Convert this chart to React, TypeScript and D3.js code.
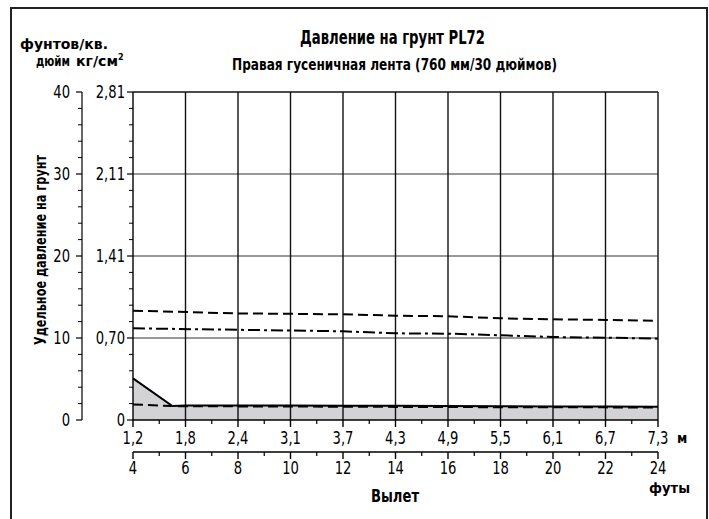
import React from "react";
import * as d3 from "d3";

const feetTicks = [4, 6, 8, 10, 12, 14, 16, 18, 20, 22, 24];
const meterLabels = ["1,2", "1,8", "2,4", "3,1", "3,7", "4,3", "4,9", "5,5", "6,1", "6,7", "7,3"];
const psiTicks = [0, 10, 20, 30, 40];
const kgLabels = ["0", "0,70", "1,41", "2,11", "2,81"];

const dashedFeet = [4, 8, 12, 14, 16, 18, 20, 22, 24];
const dashedValues = [13.33, 13.0, 12.89, 12.72, 12.65, 12.4, 12.28, 12.2, 12.11];

const dashDotFeet = [4, 8, 12, 14, 16, 18, 20, 22, 24];
const dashDotValues = [11.18, 11.0, 10.82, 10.57, 10.53, 10.33, 10.12, 10.04, 9.92];

const solidFeet = [4, 5.5, 6, 8, 10, 12, 14, 16, 18, 20, 22, 24];
const solidValues = [5.08, 1.7, 1.76, 1.76, 1.76, 1.75, 1.73, 1.7, 1.68, 1.66, 1.64, 1.63];

const lowDashFeet = [4, 5.5, 6, 8, 10, 12, 14, 16, 18, 20, 22, 24];
const lowDashValues = [1.9, 1.7, 1.68, 1.66, 1.64, 1.62, 1.6, 1.58, 1.56, 1.55, 1.54, 1.53];

const FONT = "'DejaVu Sans Condensed', 'Liberation Sans Narrow', sans-serif";

function Num({ x, y, anchor, children }: { x: number; y: number; anchor: string; children: React.ReactNode }) {
  return (
    <text transform={`translate(${x},${y}) scale(0.86,1)`} textAnchor={anchor} fontSize={17}>
      {children}
    </text>
  );
}

export default function App() {
  const L = 133, R = 658, T = 92, B = 420;
  const x = d3.scaleLinear().domain([4, 24]).range([L, R]);
  const y = d3.scaleLinear().domain([0, 40]).range([B, T]);
  const feetAxisY = 452;
  const psiAxisX = 82;

  const mk = (fx: number[], vy: number[]) =>
    d3.line<number>().x((_, i) => x(fx[i])).y((_, i) => y(vy[i]))(fx) || "";
  const area = d3
    .area<number>()
    .x((_, i) => x(solidFeet[i]))
    .y0(y(0))
    .y1((_, i) => y(solidValues[i]))(solidFeet) || "";

  const minorPsi = d3.range(0, 41, 2).filter((v) => v % 10 !== 0);
  const oddFeet = d3.range(5, 24, 2);

  return (
    <svg
      width={709}
      height={519}
      style={{ position: "absolute", left: 0, top: 0, background: "#fff" }}
      fontFamily={FONT}
    >
      {/* outer frame */}
      <path d="M11,520 L11,8 L707,8 L707,520" fill="none" stroke="#222" strokeWidth={2} />

      {/* titles */}
      <text x={300} y={44} fontSize={20} fontWeight="bold" textLength={185} lengthAdjust="spacingAndGlyphs">
        Давление на грунт PL72
      </text>
      <text x={232} y={70} fontSize={16} fontWeight="bold" textLength={325} lengthAdjust="spacingAndGlyphs">
        Правая гусеничная лента (760 мм/30 дюймов)
      </text>

      {/* unit labels */}
      <text x={20} y={49} fontSize={14.5} fontWeight="bold" textLength={88} lengthAdjust="spacingAndGlyphs">фунтов/кв.</text>
      <text x={36} y={66} fontSize={14.5} fontWeight="bold" textLength={34} lengthAdjust="spacingAndGlyphs">дюйм</text>
      <text x={76} y={66} fontSize={14.5} fontWeight="bold">
        <tspan textLength={42} lengthAdjust="spacingAndGlyphs">кг/см</tspan>
        <tspan dy={-6} fontSize={9}>2</tspan>
      </text>

      {/* fill */}
      <path d={area} fill="#d3d3d5" />

      {/* horizontal grid */}
      {psiTicks.slice(1, 4).map((v) => (
        <line key={"hg" + v} x1={L} x2={R} y1={y(v)} y2={y(v)} stroke="#333" strokeWidth={1} />
      ))}
      {/* vertical grid */}
      {feetTicks.slice(1).map((f) => (
        <line key={"vg" + f} x1={x(f)} x2={x(f)} y1={T} y2={B} stroke="#111" strokeWidth={1.4} />
      ))}
      <line x1={L} x2={R} y1={T} y2={T} stroke="#111" strokeWidth={1.4} />

      {/* data lines */}
      <path d={mk(lowDashFeet, lowDashValues)} fill="none" stroke="#000" strokeWidth={2} strokeDasharray="10,5" />
      <path d={mk(solidFeet, solidValues)} fill="none" stroke="#000" strokeWidth={2} />
      <path d={mk(dashedFeet, dashedValues)} fill="none" stroke="#000" strokeWidth={2} strokeDasharray="10,5" />
      <path d={mk(dashDotFeet, dashDotValues)} fill="none" stroke="#000" strokeWidth={2} strokeDasharray="12,4,3,4" />

      {/* left psi axis */}
      <line x1={psiAxisX} x2={psiAxisX} y1={T} y2={B} stroke="#000" strokeWidth={1.2} />
      {psiTicks.map((v) => (
        <g key={"pt" + v}>
          <line x1={psiAxisX - 6} x2={psiAxisX} y1={y(v)} y2={y(v)} stroke="#000" strokeWidth={1.2} />
          <Num x={psiAxisX - 12} y={y(v) + 6} anchor="end">{v}</Num>
        </g>
      ))}
      {minorPsi.map((v) => (
        <line key={"pm" + v} x1={psiAxisX - 4} x2={psiAxisX} y1={y(v)} y2={y(v)} stroke="#000" strokeWidth={1} />
      ))}

      {/* kg axis (plot left edge) */}
      <line x1={L} x2={L} y1={T} y2={B} stroke="#000" strokeWidth={1.4} />
      {psiTicks.map((v, i) => (
        <g key={"kt" + v}>
          <line x1={L - 6} x2={L} y1={y(v)} y2={y(v)} stroke="#000" strokeWidth={1.2} />
          <Num x={L - 8} y={y(v) + 6} anchor="end">{kgLabels[i]}</Num>
        </g>
      ))}
      {minorPsi.map((v) => (
        <line key={"km" + v} x1={L - 4} x2={L} y1={y(v)} y2={y(v)} stroke="#000" strokeWidth={1} />
      ))}

      {/* y title */}
      <text
        transform={`translate(46,${250}) rotate(-90)`}
        x={-95}
        fontSize={16.5}
        fontWeight="bold"
        textLength={190}
        lengthAdjust="spacingAndGlyphs"
      >
        Удельное давление на грунт
      </text>

      {/* bottom (meters) axis */}
      <line x1={L} x2={R} y1={B} y2={B} stroke="#000" strokeWidth={1.4} />
      {feetTicks.map((f, i) => (
        <g key={"mt" + f}>
          <line x1={x(f)} x2={x(f)} y1={B} y2={B + 7} stroke="#000" strokeWidth={1.4} />
          <Num x={x(f)} y={B + 24} anchor="middle">{meterLabels[i]}</Num>
        </g>
      ))}
      {oddFeet.map((f) => (
        <line key={"mm" + f} x1={x(f)} x2={x(f)} y1={B} y2={B + 4} stroke="#000" strokeWidth={1.2} />
      ))}
      <text x={677} y={B + 23} fontSize={14} fontWeight="bold">м</text>

      {/* feet axis */}
      <line x1={L} x2={R} y1={feetAxisY} y2={feetAxisY} stroke="#000" strokeWidth={1.4} />
      {feetTicks.map((f) => (
        <g key={"ft" + f}>
          <line x1={x(f)} x2={x(f)} y1={feetAxisY} y2={feetAxisY + 7} stroke="#000" strokeWidth={1.4} />
          <Num x={x(f)} y={feetAxisY + 22} anchor="middle">{f}</Num>
        </g>
      ))}
      {oddFeet.map((f) => (
        <line key={"fm" + f} x1={x(f)} x2={x(f)} y1={feetAxisY} y2={feetAxisY + 4} stroke="#000" strokeWidth={1.2} />
      ))}
      <text x={649} y={493} fontSize={14} fontWeight="bold" textLength={41} lengthAdjust="spacingAndGlyphs">футы</text>

      <text x={371} y={502} fontSize={17} fontWeight="bold" textLength={48} lengthAdjust="spacingAndGlyphs">Вылет</text>
    </svg>
  );
}
